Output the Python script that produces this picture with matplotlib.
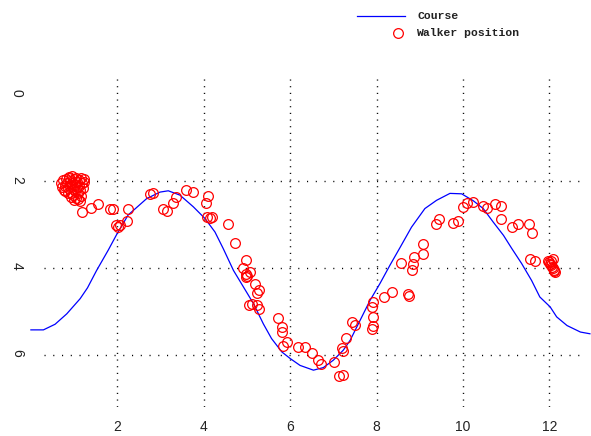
import matplotlib
matplotlib.use("Agg")
import matplotlib.pyplot as plt
from matplotlib.lines import Line2D

# course line
course_x = [0.0, 0.29, 0.56, 0.83, 1.14, 1.31, 1.52, 1.79, 1.99, 2.25, 2.68, 2.99,
            3.18, 3.45, 3.76, 4.03, 4.26, 4.45, 4.69, 4.92, 5.15, 5.38, 5.57, 5.81,
            6.0, 6.23, 6.54, 6.77, 7.0, 7.23, 7.39, 7.62, 7.85, 8.08, 8.31, 8.55,
            8.81, 9.12, 9.39, 9.70, 9.97, 10.24, 10.47, 10.70, 10.94, 11.13, 11.36,
            11.59, 11.78, 12.02, 12.17, 12.41, 12.72, 12.94]
course_y = [5.43, 5.43, 5.30, 5.06, 4.71, 4.46, 4.06, 3.59, 3.22, 2.78, 2.40, 2.25,
            2.22, 2.32, 2.59, 2.86, 3.17, 3.55, 4.06, 4.44, 4.82, 5.29, 5.63, 5.94,
            6.09, 6.25, 6.36, 6.30, 6.13, 5.90, 5.67, 5.21, 4.75, 4.36, 3.94, 3.52,
            3.06, 2.63, 2.44, 2.28, 2.29, 2.45, 2.63, 2.94, 3.25, 3.55, 3.90,
            4.29, 4.67, 4.90, 5.13, 5.33, 5.48, 5.52]

# walker positions
walker_x = [0.70, 0.72, 0.75, 0.78, 0.80, 0.82, 0.84, 0.86, 0.88, 0.90, 0.91, 0.93,
            0.94, 0.96, 0.97, 0.98, 1.00, 1.01, 1.02, 1.04, 1.05, 1.06, 1.07, 1.08,
            1.10, 1.11, 1.12, 1.13, 1.15, 1.17, 1.18, 1.20, 1.22, 1.24, 0.85, 0.92,
            0.99, 1.14, 0.76, 0.89,
            1.18, 1.38, 1.56, 1.83, 1.90, 2.25, 1.97, 2.01, 2.06, 2.22, 2.76, 2.83,
            3.06, 3.15, 3.30, 3.37, 3.59, 3.75, 4.11, 4.05, 4.07, 4.15, 4.20, 4.57,
            4.73, 4.98, 4.92, 4.98, 5.01, 5.07, 4.98, 5.19, 5.29, 5.23, 5.04, 5.12,
            5.23, 5.29, 5.72, 5.81, 5.82, 5.93, 5.84, 6.19, 6.34, 6.50, 6.64, 6.72,
            7.01, 7.14, 7.22, 7.19, 7.22, 7.29, 7.43, 7.50, 7.89, 7.93, 7.91, 7.92,
            7.89, 8.18, 8.35, 8.74, 8.76, 8.57, 8.81, 8.85, 8.87, 9.07, 9.08, 9.38,
            9.45, 9.76, 9.89, 10.00, 10.09, 10.23, 10.47, 10.55, 10.74, 10.88, 10.88,
            11.13, 11.28, 11.53, 11.59, 11.55, 11.67,
            11.98, 12.00, 12.02, 12.04, 12.06, 12.08, 12.10, 12.12, 12.14, 12.09, 12.03]
walker_y = [2.05, 2.14, 1.98, 2.10, 2.22, 1.95, 2.05, 2.16, 1.90, 2.00, 2.12, 2.26,
            1.87, 2.05, 2.18, 2.32, 1.95, 2.08, 2.22, 2.38, 1.92, 2.02, 2.14, 2.28,
            2.42, 1.98, 2.10, 2.20, 2.33, 1.92, 2.05, 2.15, 1.95, 2.02, 2.28, 2.36,
            2.44, 2.45, 2.20, 1.93,
            2.71, 2.61, 2.53, 2.64, 2.64, 2.65, 3.00, 3.06, 3.02, 2.92, 2.30, 2.27,
            2.64, 2.68, 2.50, 2.37, 2.21, 2.25, 2.34, 2.50, 2.82, 2.84, 2.82, 2.99,
            3.42, 3.81, 4.00, 4.15, 4.18, 4.10, 4.21, 4.37, 4.50, 4.57, 4.86, 4.83,
            4.85, 4.94, 5.15, 5.36, 5.49, 5.70, 5.81, 5.83, 5.83, 5.96, 6.13, 6.21,
            6.18, 6.49, 6.47, 5.84, 5.92, 5.61, 5.24, 5.31, 4.90, 4.79, 5.13, 5.35,
            5.42, 4.66, 4.56, 4.61, 4.65, 3.88, 4.04, 3.92, 3.75, 3.67, 3.44, 2.98,
            2.86, 2.96, 2.92, 2.59, 2.50, 2.48, 2.58, 2.61, 2.53, 2.58, 2.86,
            3.06, 2.98, 2.98, 3.19, 3.79, 3.85,
            3.83, 3.86, 3.90, 3.93, 3.97, 4.00, 4.04, 4.07, 4.10, 3.80, 3.84]

x_ticks = [2, 4, 6, 8, 10, 12]
y_ticks = [0, 2, 4, 6]
grid_y = [2, 4, 6]

W, H = 591, 436
fig = plt.figure(figsize=(W / 100, H / 100), dpi=100)
ax = fig.add_axes([30.9 / W, 1 - 407 / H, (W - 30.9) / W, (407 - 79) / H])
ax.set_xlim(0, 12.965)
ax.set_ylim(7.21, -0.36)
for s in ax.spines.values():
    s.set_visible(False)

# dotted grid
ax.vlines(x_ticks, -0.36, 7.21, colors='black', lw=1.0, linestyles=[(0, (0.8, 4.0))])
ax.hlines(grid_y, 0.31, 12.69, colors='black', lw=1.0, linestyles=[(0, (0.8, 5.5))])

ax.plot(course_x, course_y, color='#0000ff', lw=0.9, clip_on=False)
ax.plot(walker_x, walker_y, 'o', ms=7, mfc='none', mec='#ff0000', mew=0.9, clip_on=False)

ax.set_xticks(x_ticks)
ax.set_yticks(y_ticks)
ax.tick_params(length=0, labelsize=10, labelcolor='#222222')
ax.tick_params(axis='x', pad=9)
ax.tick_params(axis='y', pad=5, labelrotation=-90)
for lab in ax.get_xticklabels() + ax.get_yticklabels():
    lab.set_fontfamily('Liberation Sans')

# legend in the top right
fig.add_artist(Line2D([357 / W, 405 / W], [1 - 16 / H] * 2, color='#0000ff', lw=0.9))
fig.add_artist(Line2D([398 / W], [1 - 33 / H], marker='o', ms=7, mfc='none',
                      mec='#ff0000', mew=0.9))
fig.text(417 / W, 1 - 16 / H, 'Course', family='Liberation Mono', size=8.2,
         weight='bold', va='center', color='#222222')
fig.text(416 / W, 1 - 33 / H, 'Walker position', family='Liberation Mono', size=8.2,
         weight='bold', va='center', color='#222222')

fig.savefig('out.png', dpi=100)
